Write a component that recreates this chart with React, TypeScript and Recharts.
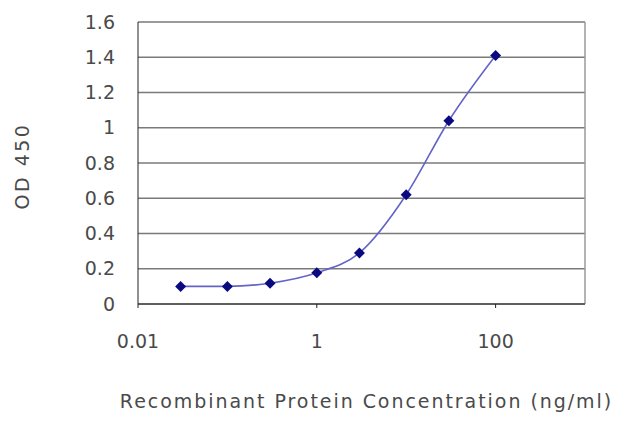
import { LineChart, Line, XAxis, YAxis, CartesianGrid, ReferenceLine } from "recharts";

const concentrations = [0.03, 0.1, 0.3, 1, 3, 10, 30, 100];
const od450 = [0.1, 0.1, 0.118, 0.177, 0.29, 0.62, 1.04, 1.41];
const xTicks = [0.01, 1, 100];
const yTicks = [0, 0.2, 0.4, 0.6, 0.8, 1, 1.2, 1.4, 1.6];

const data = concentrations.map((c, i) => ({ conc: c, od: od450[i] }));

const FONT = "'DejaVu Sans', sans-serif";
const TEXT = "#4a4a4a";

const Diamond = (props: any) => {
  const { cx, cy } = props;
  if (cx == null || cy == null) return null;
  const r = 5.5;
  return (
    <polygon
      points={`${cx},${cy - r} ${cx + r},${cy} ${cx},${cy + r} ${cx - r},${cy}`}
      fill="#0a0a80"
    />
  );
};

const YLabel = (props: any) => {
  const { viewBox } = props;
  const cy = viewBox.y + viewBox.height / 2 + 3;
  return (
    <text
      x={0}
      y={0}
      transform={`translate(29, ${cy}) rotate(-90)`}
      textAnchor="middle"
      fontSize={19}
      letterSpacing={2.5}
      fontFamily={FONT}
      fill={TEXT}
    >
      OD 450
    </text>
  );
};

export default function App() {
  return (
    <div style={{ position: "absolute", left: 0, top: 0, background: "#fff" }}>
      <LineChart
        width={640}
        height={427}
        data={data}
        margin={{ top: 22, right: 55, left: 0, bottom: 0 }}
      >
        <CartesianGrid vertical={false} stroke="#7a7a7a" strokeWidth={1.6} />
        <ReferenceLine x={1000} stroke="#9a9a9a" strokeWidth={1.5} />
        <XAxis
          dataKey="conc"
          type="number"
          scale="log"
          domain={[0.01, 1000]}
          ticks={xTicks}
          allowDataOverflow
          height={123}
          stroke="#222"
          tickSize={4}
          tickMargin={27}
          tickFormatter={(v: number) => String(v)}
          tick={{ fontSize: 19, fontFamily: FONT, fill: TEXT }}
          label={{
            value: "Recombinant Protein Concentration (ng/ml)",
            position: "insideBottom",
            offset: 19,
            dx: 5,
            fontSize: 19,
            letterSpacing: 1.95,
            fontFamily: FONT,
            fill: TEXT,
          }}
        />
        <YAxis
          type="number"
          domain={[0, 1.6]}
          ticks={yTicks}
          width={138}
          stroke="#222"
          tickLine={false}
          tickMargin={17}
          tick={{ fontSize: 19, fontFamily: FONT, fill: TEXT }}
          label={<YLabel />}
        />
        <Line
          type="monotone"
          dataKey="od"
          stroke="#6464c8"
          strokeWidth={1.6}
          dot={<Diamond />}
          activeDot={false}
          isAnimationActive={false}
        />
      </LineChart>
    </div>
  );
}
